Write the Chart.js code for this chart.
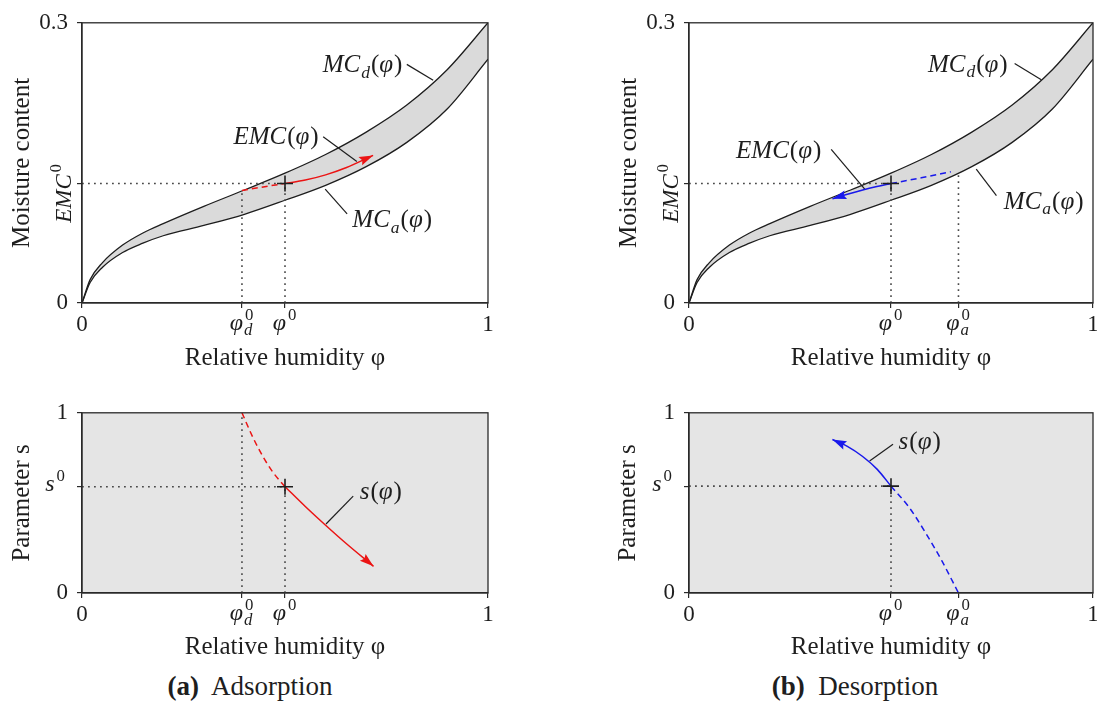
<!DOCTYPE html>
<html>
<head>
<meta charset="utf-8">
<script src="https://cdn.jsdelivr.net/npm/chart.js@4.4.1/dist/chart.umd.min.js"></script>
<style>
    body { margin: 0; background: #fff; width: 1097px; height: 707px; overflow: hidden; position: relative;
           font-family: 'Liberation Serif', 'Times New Roman', serif; color: #1e1e1e; }
    canvas { position: absolute; }
    .cap { position: absolute; top: 671px; width: 300px; text-align: center; font-size: 27px; }
</style>
</head>
<body>
<canvas id="isoA" width="548" height="380" style="left:0;top:0"></canvas>
<canvas id="isoB" width="510" height="380" style="left:600px;top:0"></canvas>
<canvas id="sA" width="548" height="275" style="left:0;top:390px"></canvas>
<canvas id="sB" width="510" height="275" style="left:600px;top:390px"></canvas>
<div class="cap" style="left:100px"><b>(a)</b>&nbsp; Adsorption</div>
<div class="cap" style="left:705px"><b>(b)</b>&nbsp; Desorption</div>

<script>
// Isotermas de sorción (curvas de desorción y adsorción)
const phi = [0, 0.02, 0.05, 0.1, 0.15, 0.2, 0.3, 0.4, 0.5, 0.6, 0.7, 0.8, 0.9, 1];
const mcDesorption = [0, 0.025, 0.043, 0.062, 0.075, 0.085, 0.1035, 0.121, 0.139, 0.159, 0.183, 0.212, 0.250, 0.300];
const mcAdsorption = [0, 0.022, 0.038, 0.054, 0.064, 0.072, 0.083, 0.095, 0.110, 0.126, 0.146, 0.172, 0.208, 0.261];

// Punto de partida
const phi0 = 0.5;
const phiD0 = 0.394;
const phiA0 = 0.667;
const emc0 = 0.128;
const s0 = 0.59;

// (a) adsorción: EMC y parámetro s
const emcA = [[0.5, 0.128], [0.55, 0.1316], [0.6, 0.1372], [0.65, 0.1448], [0.717, 0.158]];
const emcDashA = [[0.394, 0.1205], [0.45, 0.1245], [0.5, 0.128]];
const sCurveA = [[0.5, 0.59], [0.55, 0.48], [0.6, 0.376], [0.65, 0.276], [0.718, 0.148]];
const sDashA = [[0.394, 1], [0.42, 0.868], [0.445, 0.76], [0.47, 0.671], [0.5, 0.59]];

// (b) desorción (flecha hacia la izquierda)
const emcB = [[0.355, 0.1115], [0.392, 0.1164], [0.43, 0.121], [0.465, 0.1247], [0.5, 0.128]];
const emcDashB = [[0.5, 0.128], [0.575, 0.134], [0.648, 0.1405]];
const sCurveB = [[0.355, 0.852], [0.392, 0.814], [0.429, 0.759], [0.466, 0.686], [0.5, 0.593]];
const sDashB = [[0.5, 0.593], [0.545, 0.475], [0.585, 0.336], [0.626, 0.178], [0.667, 0]];

// Ticks
const xTicksA = [0, phiD0, phi0, 1];
const xLabelsA = ['0', 'φ_d^0', 'φ^0', '1'];
const xTicksB = [0, phi0, phiA0, 1];
const xLabelsB = ['0', 'φ^0', 'φ_a^0', '1'];
const yTicksIso = [0, emc0, 0.3];
const yLabelsIso = ['0', '', '0.3'];
const yTicksS = [0, s0, 1];
const yLabelsS = ['0', 's^0', '1'];

// Líneas de referencia de las etiquetas
const leadersIsoA = [[[0.800, 0.2555], [0.865, 0.2385]], [[0.594, 0.178], [0.677, 0.1516]], [[0.599, 0.1219], [0.653, 0.0954]]];
const leadersIsoB = [[[0.806, 0.2565], [0.872, 0.239]], [[0.352, 0.1645], [0.435, 0.122]], [[0.711, 0.1433], [0.761, 0.115]]];
const leadersSA = [[[0.668, 0.538], [0.601, 0.383]]];
const leadersSB = [[[0.505, 0.825], [0.447, 0.733]]];

const FONT = "'Liberation Serif', 'Times New Roman', serif";
const INK = '#1e1e1e';
const AXIS = '#2a2a2a';
const RED = 'rgb(235, 20, 20)';
const BLUE = 'rgb(25, 25, 235)';

Chart.defaults.font.family = FONT;
Chart.defaults.color = INK;

const panels = {}; // configuración de cada panel, por id del canvas

const toXY = pts => pts.map(([x, y]) => ({ x: x, y: y }));

// Convierte 'MC_d(φ)' en partes con cursiva, subíndice y superíndice
function parseMath(src) {
    const parts = [];
    for (let i = 0; i < src.length; i++) {
        const c = src[i];
        if (c === '_' || c === '^') {
            let last = parts[parts.length - 1];
            if (!last || !last.script) {
                last = { script: true };
                parts.push(last);
            }
            last[c === '_' ? 'sub' : 'sup'] = src[++i];
        } else {
            const it = /[A-Za-zφ]/.test(c);
            const last = parts[parts.length - 1];
            if (last && !last.script && last.it === it) last.t += c;
            else parts.push({ t: c, it: it });
        }
    }
    return parts;
}

function drawMath(ctx, src, x, y, size, align) {
    const parts = parseMath(src);
    const small = size * 0.7;
    const fnt = (it, s) => (it ? 'italic ' : '') + s + 'px ' + FONT;
    let w = 0;
    parts.forEach(p => {
        if (p.script) {
            ctx.font = fnt(true, small);
            const a = p.sub ? ctx.measureText(p.sub).width : 0;
            ctx.font = fnt(false, small);
            const b = p.sup ? ctx.measureText(p.sup).width + 1 : 0;
            p.w = Math.max(a, b) + 1;
        } else {
            ctx.font = fnt(p.it, size);
            p.w = ctx.measureText(p.t).width + (p.it ? size * 0.04 : 0);
        }
        w += p.w;
    });
    let cx = align === 'center' ? x - w / 2 : align === 'right' ? x - w : x;
    ctx.save();
    ctx.fillStyle = INK;
    ctx.textAlign = 'left';
    ctx.textBaseline = 'alphabetic';
    parts.forEach(p => {
        if (p.script) {
            if (p.sub) {
                ctx.font = fnt(true, small);
                ctx.fillText(p.sub, cx, y + size * 0.22);
            }
            if (p.sup) {
                ctx.font = fnt(false, small);
                ctx.fillText(p.sup, cx + 1, y - size * 0.4);
            }
        } else {
            ctx.font = fnt(p.it, size);
            ctx.fillText(p.t, cx, y);
        }
        cx += p.w;
    });
    ctx.restore();
}

function lineSet(pts, color, extra) {
    return Object.assign({
        data: toXY(pts),
        borderColor: color,
        borderWidth: 1.4,
        pointRadius: 0,
        fill: false
    }, extra || {});
}

function guideSets(list) {
    return list.map(pts => lineSet(pts, '#4a4a4a', { borderDash: [1.8, 4.2], borderWidth: 1.6, order: 4 }));
}

function leaderSets(list) {
    return list.map(pts => lineSet(pts, INK, { borderWidth: 1.2, order: 3 }));
}

function pathSet(pts, color, dashed, arrow) {
    return lineSet(pts, color, {
        borderDash: dashed ? [6, 4] : [],
        borderWidth: 1.5,
        cubicInterpolationMode: 'monotone',
        order: 2,
        arrow: arrow
    });
}

function crossSet(x, y) {
    return {
        data: [{ x: x, y: y }],
        showLine: false,
        pointStyle: 'cross',
        pointRadius: 8,
        pointBorderWidth: 1.6,
        pointBorderColor: INK,
        order: 1
    };
}

// Plugins propios: fondo, marco, flechas y textos matemáticos
const backPlugin = {
    id: 'back',
    beforeDraw(chart) {
        const cfg = panels[chart.canvas.id];
        if (!cfg || !cfg.bg) return;
        const a = chart.chartArea;
        chart.ctx.save();
        chart.ctx.fillStyle = cfg.bg;
        chart.ctx.fillRect(a.left, a.top, a.right - a.left, a.bottom - a.top);
        chart.ctx.restore();
    }
};

const framePlugin = {
    id: 'frame',
    afterDatasetsDraw(chart) {
        const a = chart.chartArea;
        const ctx = chart.ctx;
        ctx.save();
        ctx.strokeStyle = AXIS;
        ctx.lineWidth = 1.3;
        ctx.strokeRect(a.left, a.top, a.right - a.left, a.bottom - a.top);
        ctx.restore();
    }
};

const arrowPlugin = {
    id: 'arrows',
    afterDatasetsDraw(chart) {
        const ctx = chart.ctx;
        chart.data.datasets.forEach((ds, i) => {
            if (!ds.arrow) return;
            const pts = chart.getDatasetMeta(i).data;
            const atStart = ds.arrow === 'start';
            const tip = atStart ? pts[0] : pts[pts.length - 1];
            const next = atStart ? pts[1] : pts[pts.length - 2];
            let fx = atStart ? tip.cp2x : tip.cp1x;
            let fy = atStart ? tip.cp2y : tip.cp1y;
            if (fx === undefined || Math.hypot(tip.x - fx, tip.y - fy) < 0.5) {
                fx = next.x;
                fy = next.y;
            }
            const ang = Math.atan2(tip.y - fy, tip.x - fx);
            const len = 14, half = 4.5;
            ctx.save();
            ctx.translate(tip.x, tip.y);
            ctx.rotate(ang);
            ctx.beginPath();
            ctx.moveTo(0, 0);
            ctx.lineTo(-len, -half);
            ctx.lineTo(-len * 0.85, 0);
            ctx.lineTo(-len, half);
            ctx.closePath();
            ctx.fillStyle = ds.borderColor;
            ctx.fill();
            ctx.restore();
        });
    }
};

const textPlugin = {
    id: 'mathText',
    afterDraw(chart) {
        const cfg = panels[chart.canvas.id];
        if (!cfg) return;
        const ctx = chart.ctx;
        const xs = chart.scales.x, ys = chart.scales.y;
        const a = chart.chartArea;
        cfg.labels.forEach(l => {
            drawMath(ctx, l.text, xs.getPixelForValue(l.x), ys.getPixelForValue(l.y), 25, 'center');
        });
        cfg.xTicks.forEach((v, i) => {
            const t = cfg.xLabels[i];
            if (/[\^_]/.test(t)) drawMath(ctx, t, xs.getPixelForValue(v), a.bottom + 27, 24, 'center');
        });
        cfg.yTicks.forEach((v, i) => {
            const t = cfg.yLabels[i];
            if (/[\^_]/.test(t)) drawMath(ctx, t, a.left - 16, ys.getPixelForValue(v) + 4, 24, 'right');
        });
        if (cfg.rotLabel) {
            ctx.save();
            ctx.translate(a.left - 11.5, ys.getPixelForValue(cfg.rotLabel.y) + 9.5);
            ctx.rotate(-Math.PI / 2);
            drawMath(ctx, cfg.rotLabel.text, 0, 0, 23, 'center');
            ctx.restore();
        }
    }
};

function buildChart(id, cfg) {
    panels[id] = cfg;
    return new Chart(document.getElementById(id), {
        type: 'line',
        data: { datasets: cfg.datasets },
        options: {
            responsive: false,
            animation: false,
            events: [],
            layout: { padding: cfg.pad },
            plugins: {
                legend: { display: false },
                tooltip: { enabled: false },
                filler: { drawTime: 'beforeDatasetsDraw' }
            },
            scales: {
                x: {
                    type: 'linear',
                    min: 0,
                    max: 1,
                    afterFit: s => { s.height = cfg.xh; },
                    afterBuildTicks: s => { s.ticks = cfg.xTicks.map(v => ({ value: v })); },
                    ticks: {
                        autoSkip: false,
                        maxRotation: 0,
                        padding: 3,
                        color: INK,
                        font: { family: FONT, size: 23 },
                        callback: (v, i) => /[\^_]/.test(cfg.xLabels[i]) ? '' : cfg.xLabels[i]
                    },
                    grid: { drawOnChartArea: false, tickLength: 5, color: AXIS, lineWidth: 1.2 },
                    border: { color: AXIS, width: 1.3 },
                    title: {
                        display: true,
                        text: 'Relative humidity φ',
                        color: INK,
                        font: { family: FONT, size: 25 },
                        padding: { top: 0, bottom: cfg.xTitlePad }
                    }
                },
                y: {
                    min: 0,
                    max: cfg.yMax,
                    afterFit: s => { s.width = cfg.yw; },
                    afterBuildTicks: s => { s.ticks = cfg.yTicks.map(v => ({ value: v })); },
                    ticks: {
                        autoSkip: false,
                        padding: 9,
                        color: INK,
                        font: { family: FONT, size: 23 },
                        callback: (v, i) => /[\^_]/.test(cfg.yLabels[i]) ? '' : cfg.yLabels[i]
                    },
                    grid: { drawOnChartArea: false, tickLength: 5, color: AXIS, lineWidth: 1.2 },
                    border: { color: AXIS, width: 1.3 },
                    title: {
                        display: true,
                        text: cfg.yTitle,
                        color: INK,
                        font: { family: FONT, size: 25 },
                        padding: { top: cfg.yTitlePad, bottom: 0 }
                    }
                }
            }
        },
        plugins: [backPlugin, framePlugin, arrowPlugin, textPlugin]
    });
}

function isoCurves() {
    return [
        lineSet(phi.map((p, i) => [p, mcDesorption[i]]), INK, { cubicInterpolationMode: 'monotone', borderWidth: 1.3, order: 5 }),
        lineSet(phi.map((p, i) => [p, mcAdsorption[i]]), INK, {
            cubicInterpolationMode: 'monotone', borderWidth: 1.3, order: 5,
            fill: '-1', backgroundColor: '#dadada'
        })
    ];
}

// (a) Adsorción - isoterma
buildChart('isoA', {
    pad: { left: 0, top: 20, right: 60, bottom: 0 },
    yw: 82, xh: 77, xTitlePad: 7, yTitlePad: 7,
    yMax: 0.3, yTitle: 'Moisture content',
    xTicks: xTicksA, xLabels: xLabelsA, yTicks: yTicksIso, yLabels: yLabelsIso,
    rotLabel: { text: 'EMC^0', y: emc0 },
    labels: [
        { text: 'MC_d(φ)', x: 0.691, y: 0.247 },
        { text: 'EMC(φ)', x: 0.478, y: 0.170 },
        { text: 'MC_a(φ)', x: 0.764, y: 0.081 }
    ],
    datasets: isoCurves().concat(
        guideSets([[[0, emc0], [phi0, emc0]], [[phi0, 0], [phi0, emc0]], [[phiD0, 0], [phiD0, 0.1205]]]),
        leaderSets(leadersIsoA),
        [
            pathSet(emcDashA, RED, true),
            pathSet(emcA, RED, false, 'end'),
            crossSet(phi0, emc0)
        ]
    )
});

// (b) Desorción - isoterma
buildChart('isoB', {
    pad: { left: 0, top: 20, right: 17, bottom: 0 },
    yw: 89, xh: 77, xTitlePad: 7, yTitlePad: 14,
    yMax: 0.3, yTitle: 'Moisture content',
    xTicks: xTicksB, xLabels: xLabelsB, yTicks: yTicksIso, yLabels: yLabelsIso,
    rotLabel: { text: 'EMC^0', y: emc0 },
    labels: [
        { text: 'MC_d(φ)', x: 0.690, y: 0.2477 },
        { text: 'EMC(φ)', x: 0.222, y: 0.1556 },
        { text: 'MC_a(φ)', x: 0.878, y: 0.1008 }
    ],
    datasets: isoCurves().concat(
        guideSets([[[0, emc0], [phi0, emc0]], [[phi0, 0], [phi0, emc0]], [[phiA0, 0], [phiA0, 0.1405]]]),
        leaderSets(leadersIsoB),
        [
            pathSet(emcDashB, BLUE, true),
            pathSet(emcB, BLUE, false, 'start'),
            crossSet(phi0, emc0)
        ]
    )
});

// (a) Adsorción - parámetro s
buildChart('sA', {
    pad: { left: 0, top: 21, right: 60, bottom: 0 },
    yw: 82, xh: 72, xTitlePad: 3, yTitlePad: 7, bg: '#e5e5e5',
    yMax: 1, yTitle: 'Parameter s',
    xTicks: xTicksA, xLabels: xLabelsA, yTicks: yTicksS, yLabels: yLabelsS,
    labels: [{ text: 's(φ)', x: 0.736, y: 0.519 }],
    datasets: guideSets([[[0, s0], [phi0, s0]], [[phi0, 0], [phi0, s0]], [[phiD0, 0], [phiD0, 1]]]).concat(
        leaderSets(leadersSA),
        [
            pathSet(sDashA, RED, true),
            pathSet(sCurveA, RED, false, 'end'),
            crossSet(phi0, s0)
        ]
    )
});

// (b) Desorción - parámetro s
buildChart('sB', {
    pad: { left: 0, top: 22, right: 17, bottom: 0 },
    yw: 89, xh: 72, xTitlePad: 3, yTitlePad: 13, bg: '#e5e5e5',
    yMax: 1, yTitle: 'Parameter s',
    xTicks: xTicksB, xLabels: xLabelsB, yTicks: yTicksS, yLabels: yLabelsS,
    labels: [{ text: 's(φ)', x: 0.571, y: 0.798 }],
    datasets: guideSets([[[0, 0.593], [phi0, 0.593]], [[phi0, 0], [phi0, 0.593]]]).concat(
        leaderSets(leadersSB),
        [
            pathSet(sDashB, BLUE, true),
            pathSet(sCurveB, BLUE, false, 'start'),
            crossSet(phi0, 0.593)
        ]
    )
});
</script>
</body>
</html>
